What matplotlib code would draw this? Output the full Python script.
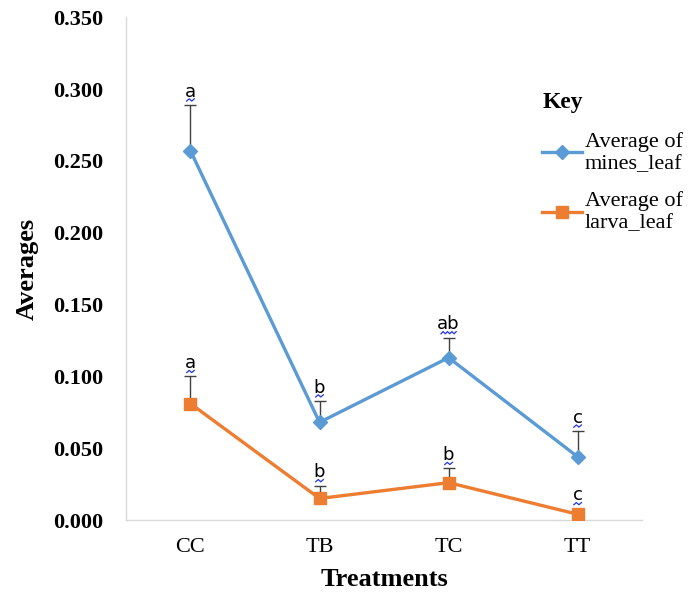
import numpy as np
import matplotlib.pyplot as plt
from matplotlib.transforms import Affine2D, ScaledTranslation

# treatment groups and the mean counts per leaf
treatments = ['CC', 'TB', 'TC', 'TT']
mines_avg = [0.257, 0.068, 0.113, 0.044]
mines_err = [0.032, 0.015, 0.014, 0.018]
larva_avg = [0.081, 0.015, 0.026, 0.004]
larva_err = [0.019, 0.009, 0.010, 0.004]
mines_letters = ['a', 'b', 'ab', 'c']
larva_letters = ['a', 'b', 'b', 'c']

blue = '#5B9BD5'
orange = '#ED7D31'

fig = plt.figure(figsize=(6.92, 5.92), dpi=100)
ax = fig.add_axes([0.182, 0.1216, 0.746, 0.8494])

x = np.arange(len(treatments)) + 0.5

ax.errorbar(x, mines_avg, yerr=[np.zeros(4), mines_err], fmt='none',
            ecolor='#404040', elinewidth=1.0, capsize=4, capthick=1.0, zorder=1)
ax.errorbar(x, larva_avg, yerr=[np.zeros(4), larva_err], fmt='none',
            ecolor='#404040', elinewidth=1.0, capsize=4, capthick=1.0, zorder=1)

ax.plot(x, mines_avg, color=blue, lw=2.4, marker='D', ms=7,
        label='Average of\nmines_leaf', zorder=3)
ax.plot(x, larva_avg, color=orange, lw=2.4, marker='s', ms=8.5,
        label='Average of\nlarva_leaf', zorder=3)


def squiggle(xd, yd, width):
    # small wavy underline, drawn in points relative to a data location
    xs = np.linspace(-width / 2, width / 2, int(width / 1.5) + 1)
    ys = np.where(np.arange(len(xs)) % 2 == 0, -0.8, 0.8)
    tr = Affine2D().scale(fig.dpi / 72) + ScaledTranslation(xd, yd, ax.transData)
    ax.plot(xs, ys + 3.5, color='#2233EE', lw=0.9, transform=tr, clip_on=False)


for xi, yv, ev, lab in zip(x, mines_avg, mines_err, mines_letters):
    ax.annotate(lab, (xi, yv + ev), xytext=(0, 3), textcoords='offset points',
                ha='center', va='bottom', fontsize=13, family='DejaVu Sans')
    squiggle(xi, yv + ev, 5.5 * len(lab))
for xi, yv, ev, lab in zip(x, larva_avg, larva_err, larva_letters):
    ax.annotate(lab, (xi, yv + ev), xytext=(0, 3), textcoords='offset points',
                ha='center', va='bottom', fontsize=13, family='DejaVu Sans')
    squiggle(xi, yv + ev, 5.5 * len(lab))

ax.set_xlim(0, 4)
ax.set_ylim(0, 0.35)
ax.set_xticks(x)
ax.set_xticklabels(treatments, family='Liberation Serif', fontsize=16)
ax.set_yticks(np.arange(0, 0.351, 0.05))
ax.set_yticklabels([f'{v:.3f}' for v in np.arange(0, 0.351, 0.05)],
                   family='Liberation Serif', fontsize=16, fontweight='bold')
ax.tick_params(axis='both', length=0)
ax.tick_params(axis='y', pad=16)
ax.tick_params(axis='x', pad=13)

for s in ['top', 'right']:
    ax.spines[s].set_visible(False)
for s in ['left', 'bottom']:
    ax.spines[s].set_color('#D9D9D9')
    ax.spines[s].set_linewidth(1.0)

ax.set_xlabel('Treatments', family='Liberation Serif', fontsize=19,
              fontweight='bold', labelpad=8)
ax.set_ylabel('Averages', family='Liberation Serif', fontsize=19,
              fontweight='bold', labelpad=11)

leg = ax.legend(loc='upper left', bbox_to_anchor=(0.755, 0.879),
                bbox_transform=fig.transFigure, frameon=False,
                title='Key', alignment='left', handlelength=1.8,
                handletextpad=0.1, labelspacing=0.8,
                prop={'family': 'Liberation Serif', 'size': 16},
                title_fontproperties={'family': 'Liberation Serif',
                                      'size': 17, 'weight': 'bold'})
leg._legend_box.sep = 14

fig.savefig('out.png', dpi=100)
